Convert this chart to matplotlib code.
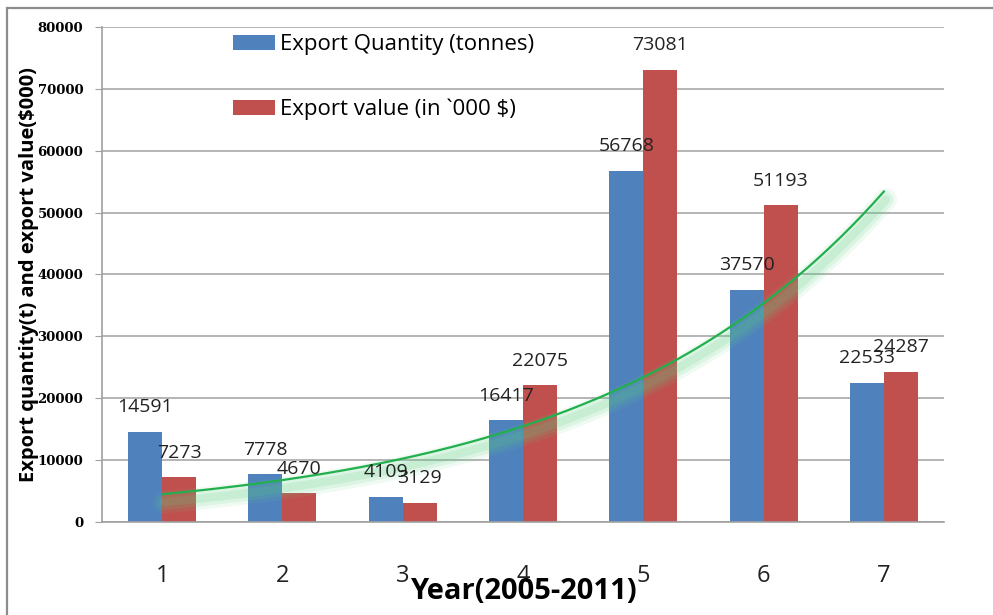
import numpy as np
import matplotlib
matplotlib.use("Agg")
import matplotlib.pyplot as plt
import matplotlib.transforms as mtransforms
from matplotlib.patches import Rectangle

# data
years = np.array([1, 2, 3, 4, 5, 6, 7])
quantity = [14591, 7778, 4109, 16417, 56768, 37570, 22533]
value = [7273, 4670, 3129, 22075, 73081, 51193, 24287]
tick_labels = ["1", "2", "3", "4", "5", "6", "7"]

BLUE = "#4f81bd"
RED = "#c0504d"
GREEN = "#22b04e"

fig = plt.figure(figsize=(9.93, 6.15), dpi=100)
ax = fig.add_axes([0.1027, 0.1512, 0.848, 0.805])

# outer chart border (cut off at right / bottom like the screenshot)
fig.patches.append(Rectangle((7, -20), 1100, 627, transform=None, fill=False,
                             edgecolor="#8c8c8c", linewidth=1.6))

w = 0.283
b1 = ax.bar(years - w / 2, quantity, w, color=BLUE, label="Export Quantity (tonnes)", zorder=2)
b2 = ax.bar(years + w / 2, value, w, color=RED, label="Export value (in `000 $)", zorder=2)

for bars, vals in ((b1, quantity), (b2, value)):
    for r, v in zip(bars, vals):
        ax.annotate(str(v), (r.get_x() + r.get_width() / 2, r.get_height()),
                    xytext=(0, 11), textcoords="offset points", ha="center", va="bottom",
                    fontsize=14, family="Open Sans", color="#222222", zorder=5)

# exponential trendline on export value (like Excel)
coef = np.polyfit(years, np.log(value), 1)
xs = np.linspace(years[0], years[-1], 200)
ys = np.exp(np.polyval(coef, xs))
glow = mtransforms.offset_copy(ax.transData, fig=fig, x=2, y=-8, units="dots")
for lw, a in ((16, 0.10), (11, 0.13), (6, 0.16)):
    ax.plot(xs, ys, color="#5fcf85", lw=lw, alpha=a, transform=glow,
            solid_capstyle="round", zorder=3)
ax.plot(xs, ys, color=GREEN, lw=1.6, zorder=4)

ax.set_xlim(0.5, 7.5)
ax.set_ylim(0, 80000)
ax.set_yticks(np.arange(0, 80001, 10000))
ax.set_xticks(years)
ax.set_xticklabels(tick_labels, family="Open Sans", fontsize=17, color="#222222")
for t in ax.get_yticklabels():
    t.set_family("DejaVu Serif")
    t.set_fontweight("bold")
    t.set_fontsize(9.5)
ax.tick_params(axis="x", length=0, pad=30)
ax.tick_params(axis="y", length=5, color="#a0a0a0", pad=8.5)

ax.grid(axis="y", color="#a8a8a8", lw=1.2, zorder=0)
ax.set_axisbelow(True)
for s in ("top", "right"):
    ax.spines[s].set_visible(False)
ax.spines["left"].set_color("#a0a0a0")
ax.spines["bottom"].set_color("#a0a0a0")
ax.spines["left"].set_linewidth(1.2)
ax.spines["bottom"].set_linewidth(1.2)

ax.set_xlabel("Year(2005-2011)", family="Open Sans", fontweight="bold", fontsize=21, labelpad=-8)
ax.set_ylabel("Export quantity(t) and export value($000)", family="Open Sans",
              fontweight="bold", fontsize=14.5, labelpad=-1)

leg = ax.legend(loc="upper left", bbox_to_anchor=(0.155, 0.985), frameon=False,
                borderpad=0, borderaxespad=0, handlelength=1.9, handleheight=0.62,
                handletextpad=0.25, labelspacing=1.95,
                prop={"family": "Open Sans", "size": 16})

fig.savefig("out.png", dpi=100)
